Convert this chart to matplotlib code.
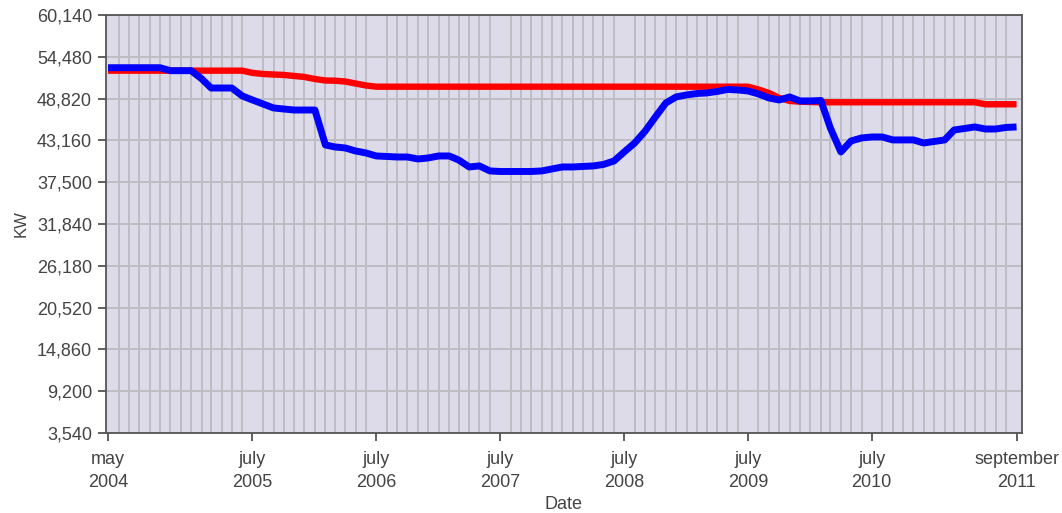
import numpy as np
import pandas as pd
import matplotlib
matplotlib.use("Agg")
import matplotlib.pyplot as plt
import matplotlib.dates as mdates

# monthly readings, may 2004 .. september 2011
months = pd.date_range("2004-05-01", "2011-09-01", freq="MS")

# blue series (KW)
actual = [53000, 53000, 53000, 53000, 53000, 53000, 52600, 52600, 52600, 51500,
          50250, 50250, 50250, 49170, 48630, 48090, 47550, 47410, 47270, 47270,
          47270, 42540, 42270, 42130, 41720, 41450, 41050, 40980, 40910, 40910,
          40640, 40780, 41050, 41050, 40500, 39560, 39700, 39020, 38950, 38950,
          38950, 38950, 39020, 39290, 39560, 39560, 39630, 39700, 39900, 40370,
          41590, 42810, 44430, 46330, 48230, 49040, 49310, 49510, 49580, 49780,
          50050, 49990, 49850, 49450, 48900, 48630, 49040, 48500, 48500, 48560,
          44840, 41590, 43080, 43490, 43620, 43620, 43220, 43220, 43220, 42810,
          43010, 43220, 44570, 44770, 44980, 44700, 44700, 44910, 44980]

# red series (KW)
limit = [52600] * 14 + [52300, 52150, 52080, 52020, 51880, 51750, 51470, 51270,
         51240, 51130, 50860, 50590] + [50430] * 37 + [50050, 49580, 48900,
         48500, 48400, 48360] + [48320] * 16 + [48050] * 4

yticks = [3540, 9200, 14860, 20520, 26180, 31840, 37500, 43160, 48820, 54480, 60140]
xtick_dates = ["2004-05-01", "2005-07-01", "2006-07-01", "2007-07-01",
               "2008-07-01", "2009-07-01", "2010-07-01", "2011-09-01"]
xtick_labels = ["may\n2004", "july\n2005", "july\n2006", "july\n2007",
                "july\n2008", "july\n2009", "july\n2010", "september\n2011"]

plt.rcParams['font.family'] = ['Liberation Sans', 'DejaVu Sans']

fig = plt.figure(figsize=(10.62, 5.13), dpi=100)
ax = fig.add_axes([0.0998, 0.156, 0.8625, 0.8148])
ax.set_facecolor('#dddaea')

ax.plot(months, limit, color='#ff0000', lw=4.6, solid_capstyle='butt', zorder=3)
ax.plot(months, actual, color='#0000ff', lw=5.0, solid_capstyle='butt', zorder=4)

ax.set_ylim(3540, 60140)
ax.set_yticks(yticks)
ax.set_yticklabels([f"{v:,}" for v in yticks])

ax.set_xlim(pd.Timestamp("2004-04-25"), pd.Timestamp("2011-09-17"))
ax.set_xticks([pd.Timestamp(d) for d in xtick_dates])
ax.set_xticklabels(xtick_labels, linespacing=1.45)
ax.xaxis.set_minor_locator(mdates.MonthLocator())

ax.grid(True, which='major', axis='y', color='#bfbdc3', lw=1.4)
ax.grid(True, which='minor', axis='x', color='#bfbdc3', lw=1.4)
ax.set_axisbelow(True)
ax.tick_params(axis='x', which='minor', length=0)
ax.tick_params(axis='both', which='major', direction='out', length=6, width=1.2,
               color='#444444', labelcolor='#444444', labelsize=13)
ax.tick_params(axis='x', which='major', pad=7)
ax.tick_params(axis='y', which='major', pad=4)

for s in ax.spines.values():
    s.set_color('#555555')
    s.set_linewidth(1.3)

ax.set_xlabel('Date', color='#444444', fontsize=13, labelpad=4)
ax.set_ylabel('KW', color='#444444', fontsize=12, labelpad=6)

fig.savefig('out.png', dpi=100)
